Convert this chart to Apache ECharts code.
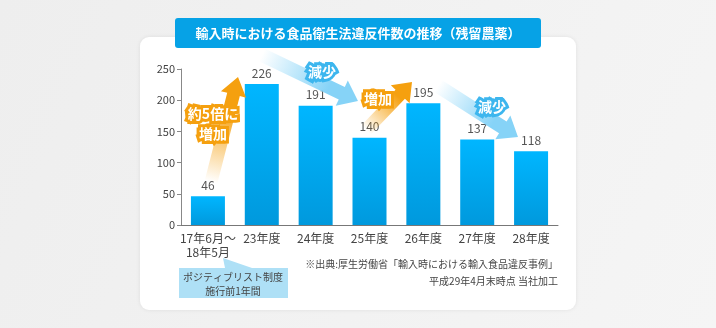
<!DOCTYPE html>
<html><head><meta charset="utf-8">
<script src="https://cdn.jsdelivr.net/npm/echarts@6/dist/echarts.min.js"></script>
<style>html,body{margin:0;padding:0;background:#f2f2f2}#c{width:716px;height:328px}</style>
</head><body><div id="c"></div>
<script>
const title = '輸入時における食品衛生法違反件数の推移（残留農薬）';
const categories = ['17年6月～\n18年5月', '23年度', '24年度', '25年度', '26年度', '27年度', '28年度'];
const values = [46, 226, 191, 140, 195, 137, 118];
const yTicks = [0, 50, 100, 150, 200, 250];
const noteLines = ['ポジティブリスト制度', '施行前1年間'];
const sourceLines = ['※出典:厚生労働省「輸入時における輸入食品違反事例」', '平成29年4月末時点 当社加工'];
const FONT = '"Noto Sans CJK JP", sans-serif';

function arrow(x1, y1, x2, y2, sw, hw, hl, c0, c1) {
  const dx = x2 - x1, dy = y2 - y1, L = Math.hypot(dx, dy);
  const ux = dx / L, uy = dy / L, nx = -uy, ny = ux;
  const bx = x2 - ux * hl, by = y2 - uy * hl;
  const p = (x, y, k) => [x + nx * k, y + ny * k];
  return {
    type: 'polygon', z: 10, silent: true,
    shape: { points: [p(x1, y1, sw / 2), p(bx, by, sw / 2), p(bx, by, hw / 2), [x2, y2], p(bx, by, -hw / 2), p(bx, by, -sw / 2), p(x1, y1, -sw / 2)] },
    style: { fill: { type: 'linear', x: x1, y: y1, x2: x2, y2: y2, global: true, colorStops: [{ offset: 0, color: c0 }, { offset: 0.7, color: c1 }, { offset: 1, color: c1 }] } }
  };
}
function outlined(x, y, text, col, size) {
  return { type: 'text', z: 12, silent: true, x: x, y: y,
    style: { text: text, fill: '#fff', stroke: col, lineWidth: 6, strokeFirst: true, lineJoin: 'round', font: 'bold ' + size + 'px ' + FONT, textAlign: 'center', textVerticalAlign: 'middle' } };
}
const ORANGE = '#f5a00f', BLUE = '#3db6ee';

const chart = echarts.init(document.getElementById('c'));
chart.setOption({
  backgroundColor: { type: 'linear', x: 0, y: 0, x2: 1, y2: 1, colorStops: [{ offset: 0, color: '#eeeeee' }, { offset: 1, color: '#f5f5f5' }] },
  animation: false,
  grid: { left: 181, right: 158, top: 69, bottom: 103 },
  xAxis: {
    type: 'category', data: categories,
    axisLine: { lineStyle: { color: '#777', width: 1 } },
    axisTick: { inside: true, length: 4, lineStyle: { color: '#777' } },
    axisLabel: { color: '#444', fontSize: 12, fontFamily: FONT, margin: 6, lineHeight: 14, interval: 0 }
  },
  yAxis: {
    type: 'value', min: 0, max: 250, interval: 50,
    axisLine: { show: true, lineStyle: { color: '#888' } },
    axisTick: { show: true, length: 4, lineStyle: { color: '#888' } },
    splitLine: { show: false },
    axisLabel: { color: '#444', fontSize: 11, fontFamily: FONT, margin: 6,
      customValues: yTicks, formatter: v => String(v) }
  },
  series: [{
    type: 'bar', data: values, barWidth: 34, z: 5,
    itemStyle: { color: { type: 'linear', x: 0, y: 0, x2: 0, y2: 1, colorStops: [{ offset: 0, color: '#00b6ff' }, { offset: 1, color: '#0099dd' }] } },
    label: { show: true, position: 'top', distance: 5, color: '#555', fontSize: 12, fontFamily: FONT }
  }],
  graphic: [
    { type: 'rect', z: -10, silent: true, shape: { x: 140, y: 37, width: 436, height: 273, r: 9 },
      style: { fill: '#ffffff', shadowBlur: 4, shadowColor: 'rgba(0,0,0,0.08)' } },
    { type: 'rect', z: 20, silent: true, shape: { x: 175, y: 18, width: 366, height: 30, r: 3 }, style: { fill: '#06a2e6' } },
    { type: 'text', z: 21, silent: true, x: 358, y: 33,
      style: { text: title, fill: '#fff', font: 'bold 13px ' + FONT, textAlign: 'center', textVerticalAlign: 'middle' } },
    arrow(211, 182, 238, 77, 13, 26, 18, 'rgba(245,160,15,0)', ORANGE),
    arrow(262, 55, 358, 101, 14, 28, 18, 'rgba(130,210,248,0)', '#86d3f7'),
    arrow(366, 130, 412, 82, 13, 26, 17, 'rgba(245,160,15,0)', ORANGE),
    arrow(438, 86, 518, 137, 14, 28, 18, 'rgba(130,210,248,0)', '#86d3f7'),
    outlined(213, 114, '約5倍に', ORANGE, 14),
    outlined(213, 134, '増加', ORANGE, 14),
    outlined(322, 72, '減少', BLUE, 14),
    outlined(378, 99, '増加', ORANGE, 14),
    outlined(492, 107, '減少', BLUE, 14),
    { type: 'polygon', z: 8, silent: true, shape: { points: [[223, 258], [225, 268], [252, 268]] }, style: { fill: '#aee0f6' } },
    { type: 'rect', z: 8, silent: true, shape: { x: 179, y: 268, width: 109, height: 30 }, style: { fill: '#aee0f6' } },
    { type: 'text', z: 9, silent: true, x: 233, y: 284,
      style: { text: noteLines.join('\n'), fill: '#444', font: '10px ' + FONT, lineHeight: 14, textAlign: 'center', textVerticalAlign: 'middle' } },
    { type: 'text', z: 9, silent: true, x: 558, y: 264,
      style: { text: sourceLines[0], fill: '#444', font: '10px ' + FONT, textAlign: 'right', textVerticalAlign: 'middle' } },
    { type: 'text', z: 9, silent: true, x: 558, y: 281,
      style: { text: sourceLines[1], fill: '#444', font: '10px ' + FONT, textAlign: 'right', textVerticalAlign: 'middle' } }
  ]
});
</script></body></html>
